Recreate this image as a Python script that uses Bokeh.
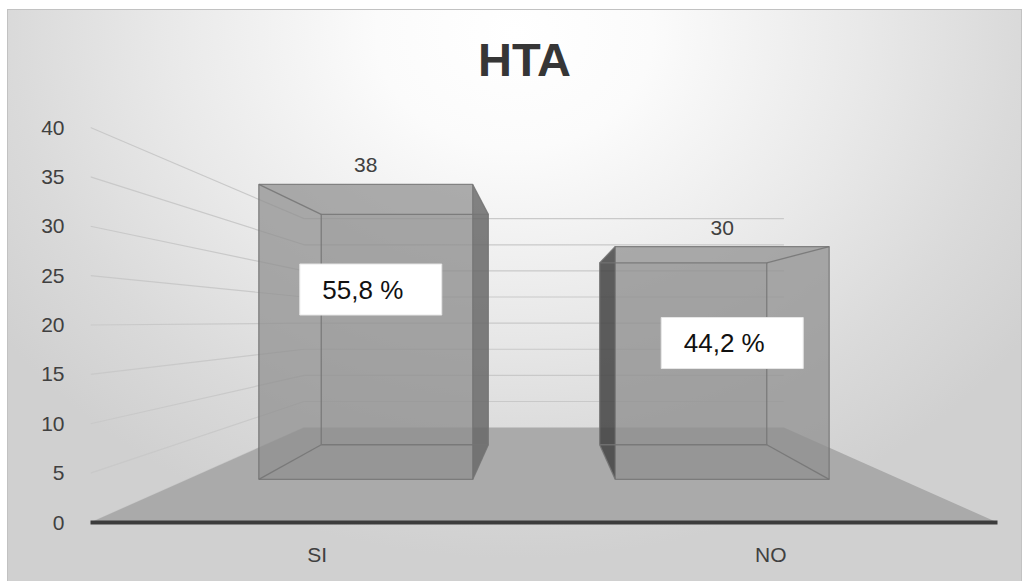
from bokeh.plotting import figure
from bokeh.models import FixedTicker
from bokeh.embed import file_html
from bokeh.resources import INLINE
from bokeh.core.properties import value

# ---- data -------------------------------------------------------------
categories = ["SI", "NO"]
counts = [38, 30]
percent_labels = ["55,8 %", "44,2 %"]
y_ticks = [0, 5, 10, 15, 20, 25, 30, 35, 40]
chart_title = "HTA"

# ---- simple perspective set-up ------------------------------------------
# x is measured in category slots on the front plane (0..2), y in counts.
# A point at depth factor k is pulled toward the vanishing point.
VP_X, VP_Y = 1.0, 20.4
K_FRONT = 1.0        # front edge of the floor (axis line)
K_WALL = 0.529       # back wall
K_BAR_FRONT = 0.786  # front face of the columns
K_BAR_BACK = 0.614   # back face of the columns
BAR_HALF = 0.3
PX_X = 453.5         # screen pixels per category slot
PX_Y = 9.875         # screen pixels per count
Y_MAX = 512 / PX_Y
FONT = "Liberation Sans"

# hand-placed percentage boxes: screen-pixel nudges from the column centre
BOX_NUDGE = [(5, -7), (10, 8)]


def proj(x, y, k):
    return VP_X + k * (x - VP_X), VP_Y + k * (y - VP_Y)


def quad(pts):
    xs, ys = zip(*[proj(*p) for p in pts])
    return list(xs), list(ys)


p = figure(width=1013, height=571, x_range=(0, 2), y_range=(0, Y_MAX),
           output_backend="svg", toolbar_location=None,
           min_border_left=82, min_border_right=24,
           min_border_top=0, min_border_bottom=59,
           margin=(10, 0, 0, 8))
p.styles = {
    "outline": "1px solid #c2c2c2",
    "background": "radial-gradient(ellipse 62% 92% at 50% 4%, #ffffff 0%, "
                  "#fbfbfb 22%, #e9e9e9 55%, #dadada 80%, #d0d0d0 100%)",
}
p.background_fill_color = None
p.border_fill_color = None
p.outline_line_color = None
p.xgrid.visible = False
p.ygrid.visible = False

# gridlines on the back wall and on the left side wall
wall_xs, wall_ys = [], []
for t in y_ticks[1:]:
    a = proj(0, t, K_WALL)
    b = proj(2, t, K_WALL)
    wall_xs.append([a[0], b[0]])
    wall_ys.append([a[1], b[1]])
for t in y_ticks:
    a = proj(0, t, K_FRONT)
    b = proj(0, t, K_WALL)
    wall_xs.append([a[0], b[0]])
    wall_ys.append([a[1], b[1]])
p.multi_line(wall_xs, wall_ys, line_color="#c9c9c9", line_width=1.2)

# floor
fx, fy = quad([(0, 0, K_FRONT), (2, 0, K_FRONT), (2, 0, K_WALL), (0, 0, K_WALL)])
p.patch(fx, fy, fill_color="#aaaaaa", line_color=None)

# columns
face_xs, face_ys, face_col, face_alpha = [], [], [], []
edge_xs, edge_ys = [], []
for i, v in enumerate(counts):
    c = i + 0.5
    x0, x1 = c - BAR_HALF, c + BAR_HALF
    kf, kb = K_BAR_FRONT, K_BAR_BACK
    back = [(x0, 0, kb), (x1, 0, kb), (x1, v, kb), (x0, v, kb)]
    bottom = [(x0, 0, kf), (x1, 0, kf), (x1, 0, kb), (x0, 0, kb)]
    top = [(x0, v, kf), (x1, v, kf), (x1, v, kb), (x0, v, kb)]
    left = [(x0, 0, kf), (x0, 0, kb), (x0, v, kb), (x0, v, kf)]
    right = [(x1, 0, kf), (x1, 0, kb), (x1, v, kb), (x1, v, kf)]
    front = [(x0, 0, kf), (x1, 0, kf), (x1, v, kf), (x0, v, kf)]
    if c < VP_X:
        outer, outer_col, inner = right, "#666666", left
    else:
        outer, outer_col, inner = left, "#3e3e3e", right
    faces = [(back, "#909090", 0.3), (bottom, "#909090", 0.15),
             (inner, "#909090", 0.15), (top, "#a0a0a0", 0.15),
             (outer, outer_col, 0.8), (front, "#909090", 0.7)]
    for pts, col, al in faces:
        xs, ys = quad(pts)
        face_xs.append(xs)
        face_ys.append(ys)
        face_col.append(col)
        face_alpha.append(al)
    for k in (kf, kb):
        sq = [(x0, 0, k), (x1, 0, k), (x1, v, k), (x0, v, k), (x0, 0, k)]
        xs, ys = quad(sq)
        edge_xs.append(xs)
        edge_ys.append(ys)
    for xx in (x0, x1):
        for yy in (0, v):
            xs, ys = quad([(xx, yy, kf), (xx, yy, kb)])
            edge_xs.append(xs)
            edge_ys.append(ys)

p.patches(face_xs, face_ys, fill_color=face_col, fill_alpha=face_alpha,
          line_color=None)
p.multi_line(edge_xs, edge_ys, line_color="#747474", line_alpha=0.85,
             line_width=1.3)

# count labels above the columns
lx, ly = zip(*[proj(i + 0.5, v, K_BAR_FRONT) for i, v in enumerate(counts)])
p.text(x=list(lx), y=list(ly), text=[str(v) for v in counts],
       text_font=value(FONT), text_font_size="21px", text_color="#404040",
       text_align="center", text_baseline="bottom", y_offset=-12)

# percentage boxes
bx, by = [], []
for i, v in enumerate(counts):
    x, y = proj(i + 0.5, 0.62 * v, K_BAR_FRONT)
    dx, dy = BOX_NUDGE[i]
    bx.append(x + dx / PX_X)
    by.append(y - dy / PX_Y)
p.rect(x=bx, y=by, width=142, height=51,
       width_units="screen", height_units="screen",
       fill_color="white", line_color="#e6e6e6")
p.text(x=bx, y=by, text=percent_labels,
       text_font=value(FONT), text_font_size="26px", text_color="#111111",
       text_align="center", text_baseline="middle", x_offset=-8)

# title
p.text(x=[0.957], y=[46.9], text=[chart_title], text_font=value(FONT),
       text_font_size="47px", text_font_style="bold", text_color="#363636",
       text_align="center", text_baseline="middle")

# axes
p.yaxis.ticker = FixedTicker(ticks=y_ticks)
p.yaxis.axis_line_color = None
p.yaxis.major_tick_line_color = None
p.yaxis.minor_tick_line_color = None
p.yaxis.major_label_standoff = 20
p.yaxis.major_label_text_font = FONT
p.yaxis.major_label_text_font_size = "21px"
p.yaxis.major_label_text_color = "#404040"

p.xaxis.ticker = FixedTicker(ticks=[i + 0.5 for i in range(len(categories))])
p.xaxis.major_label_overrides = {i + 0.5: c for i, c in enumerate(categories)}
p.xaxis.axis_line_color = "#3c3c3c"
p.xaxis.axis_line_width = 4
p.xaxis.major_tick_line_color = None
p.xaxis.minor_tick_line_color = None
p.xaxis.major_label_standoff = 14
p.xaxis.major_label_text_font = FONT
p.xaxis.major_label_text_font_size = "21px"
p.xaxis.major_label_text_color = "#404040"

open("out.html", "w").write(file_html(p, INLINE))
